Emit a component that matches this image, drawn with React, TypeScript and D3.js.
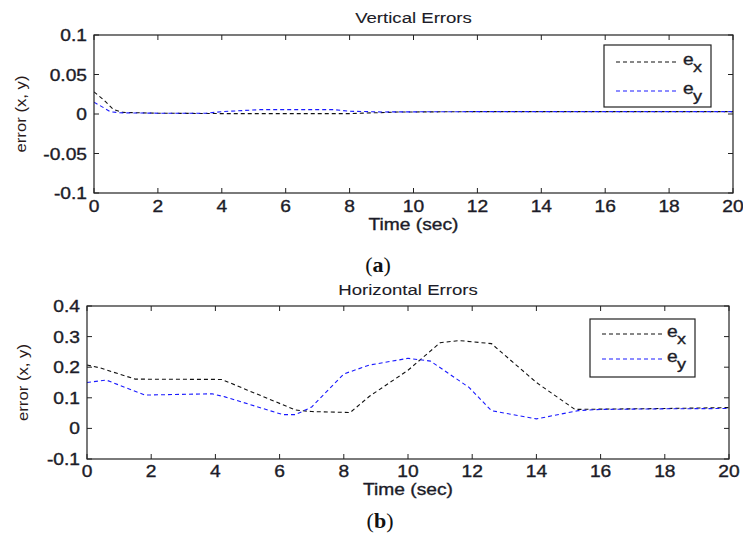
import React from "react";
import * as d3 from "d3";

// ---------- data ----------
const xTicks = [0, 2, 4, 6, 8, 10, 12, 14, 16, 18, 20];
const vertYTicks = [-0.1, -0.05, 0, 0.05, 0.1];
const vertYTickLabels = ["-0.1", "-0.05", "0", "0.05", "0.1"];
const horzYTicks = [-0.1, 0, 0.1, 0.2, 0.3, 0.4];
const horzYTickLabels = ["-0.1", "0", "0.1", "0.2", "0.3", "0.4"];

const vertTimeX = [0, 0.3, 0.6, 0.9, 2, 4, 6, 8, 9.5, 12, 16, 20];
const vertEx = [0.028, 0.018, 0.006, 0.002, 0.001, 0.0005, 0.0005, 0.0005, 0.0025, 0.003, 0.003, 0.003];
const vertTimeY = [0, 0.3, 0.5, 0.8, 2, 3.5, 4, 5.2, 6, 7.5, 8, 9, 12, 16, 20];
const vertEy = [0.015, 0.008, 0.003, 0.0015, 0.001, 0.001, 0.003, 0.0055, 0.0056, 0.0055, 0.0035, 0.0026, 0.003, 0.003, 0.003];

const horzTimeX = [0, 0.4, 1.5, 4.2, 5, 6.5, 7, 8.2, 8.8, 10, 11, 11.6, 12.6, 14, 15.2, 16, 18, 20];
const horzEx = [0.207, 0.198, 0.161, 0.16, 0.125, 0.06, 0.055, 0.052, 0.105, 0.19, 0.28, 0.287, 0.277, 0.15, 0.062, 0.063, 0.065, 0.068];
const horzTimeY = [0, 0.6, 1.8, 3.9, 4.3, 6.1, 6.5, 7, 8, 8.8, 10, 10.7, 11.9, 12.6, 14, 15.3, 16, 18, 20];
const horzEy = [0.15, 0.158, 0.109, 0.113, 0.103, 0.045, 0.045, 0.07, 0.178, 0.207, 0.229, 0.22, 0.134, 0.058, 0.031, 0.058, 0.062, 0.064, 0.065];

const TXT = "#1c1c28";
const SANS = "'Liberation Sans', Arial, sans-serif";
const SX = 1.2;

function SText({ x, y, anchor = "start", size = 16, sx = SX, fill = TXT, sw = 0.35, children }: any) {
  return (
    <text
      transform={`translate(${x},${y}) scale(${sx},1)`}
      textAnchor={anchor}
      fontFamily={SANS}
      fontSize={size}
      fill={fill}
      stroke={fill}
      strokeWidth={sw}
    >
      {children}
    </text>
  );
}

function Panel({ id, left, right, top, bottom, yDomain, yTicks, yTickLabels, title, titleY, tickY, xlabelY,
  ylabelX, series, legend }: any) {
  const x = d3.scaleLinear().domain([0, 20]).range([left, right]);
  const y = d3.scaleLinear().domain(yDomain).range([bottom, top]);
  const tl = 5;
  const cx = (left + right) / 2;
  return (
    <g>
      <defs>
        <clipPath id={id}>
          <rect x={left} y={top} width={right - left} height={bottom - top} />
        </clipPath>
      </defs>
      {/* series */}
      <g clipPath={`url(#${id})`}>
        {series.map((s: any, i: number) => {
          const line = d3
            .line<number>()
            .x((_, k) => x(s.t[k]))
            .y((v) => y(v));
          return (
            <path key={i} d={line(s.v) || ""} fill="none" stroke={s.color} strokeWidth={1.1}
              strokeDasharray="4,3" />
          );
        })}
      </g>
      {/* box */}
      <rect x={left} y={top} width={right - left} height={bottom - top} fill="none" stroke="#222" strokeWidth={1.2} />
      {/* ticks */}
      {xTicks.map((t) => (
        <g key={"x" + t}>
          <line x1={x(t)} x2={x(t)} y1={bottom} y2={bottom - tl} stroke="#222" />
          <line x1={x(t)} x2={x(t)} y1={top} y2={top + tl} stroke="#222" />
          <SText x={x(t)} y={tickY} anchor="middle">{String(t)}</SText>
        </g>
      ))}
      {yTicks.map((t: number, i: number) => (
        <g key={"y" + t}>
          <line x1={left} x2={left + tl} y1={y(t)} y2={y(t)} stroke="#222" />
          <line x1={right} x2={right - tl} y1={y(t)} y2={y(t)} stroke="#222" />
          <SText x={left - 7} y={y(t) + 6} anchor="end">{yTickLabels[i]}</SText>
        </g>
      ))}
      {/* labels */}
      <SText x={cx} y={titleY} anchor="middle" size={15.5} sw={0.1}>{title}</SText>
      <SText x={cx} y={xlabelY} anchor="middle" size={16}>Time (sec)</SText>
      <text
        transform={`translate(${ylabelX},${(top + bottom) / 2}) rotate(-90)`}
        textAnchor="middle"
        fontFamily={SANS}
        fontSize={14}
        fill="#2a1a1a"
        textLength={77}
        lengthAdjust="spacingAndGlyphs"
      >
        error (x, y)
      </text>
      {/* legend */}
      <rect x={legend.x0} y={legend.y0} width={legend.x1 - legend.x0} height={legend.y1 - legend.y0}
        fill="#fff" stroke="#222" strokeWidth={1.2} />
      {series.map((s: any, i: number) => {
        const ly = legend.ly[i];
        return (
          <g key={"l" + i}>
            <line x1={legend.lx0} x2={legend.lx1} y1={ly} y2={ly} stroke={s.color} strokeWidth={1.1} strokeDasharray="4,3" />
            <SText x={legend.tx} y={ly + 3} size={16}>
              e
            </SText>
            <SText x={legend.tx + 10} y={ly + 10} size={15}>
              {s.sub}
            </SText>
          </g>
        );
      })}
    </g>
  );
}

export default function App() {
  return (
    <svg width={743} height={534} style={{ position: "absolute", left: 0, top: 0, background: "#fff" }}>
      <rect width={743} height={534} fill="#fff" />
      <Panel
        id="clipA"
        left={94}
        right={733}
        top={35}
        bottom={193}
        yDomain={[-0.1, 0.1]}
        yTicks={vertYTicks}
        yTickLabels={vertYTickLabels}
        title="Vertical Errors"
        titleY={23}
        tickY={212}
        xlabelY={230}
        ylabelX={26}
        series={[
          { t: vertTimeX, v: vertEx, color: "#111", sub: "x" },
          { t: vertTimeY, v: vertEy, color: "#1a1aff", sub: "y" },
        ]}
        legend={{ x0: 604, x1: 711, y0: 45, y1: 107, lx0: 616, lx1: 677, tx: 683, ly: [62, 91] }}
      />
      <Panel
        id="clipB"
        left={87}
        right={729}
        top={306}
        bottom={459}
        yDomain={[-0.1, 0.4]}
        yTicks={horzYTicks}
        yTickLabels={horzYTickLabels}
        title="Horizontal Errors"
        titleY={295}
        tickY={477}
        xlabelY={495}
        ylabelX={28}
        series={[
          { t: horzTimeX, v: horzEx, color: "#111", sub: "x" },
          { t: horzTimeY, v: horzEy, color: "#1a1aff", sub: "y" },
        ]}
        legend={{ x0: 590, x1: 695, y0: 319, y1: 377, lx0: 602, lx1: 663, tx: 667, ly: [334, 359] }}
      />
      <text x={378} y={272} textAnchor="middle" fontFamily="'Liberation Serif', 'Times New Roman', serif" fontSize={22} fill="#111">
        (<tspan fontWeight="bold">a</tspan>)
      </text>
      <text x={380} y={528} textAnchor="middle" fontFamily="'Liberation Serif', 'Times New Roman', serif" fontSize={22} fill="#111">
        (<tspan fontWeight="bold">b</tspan>)
      </text>
    </svg>
  );
}
